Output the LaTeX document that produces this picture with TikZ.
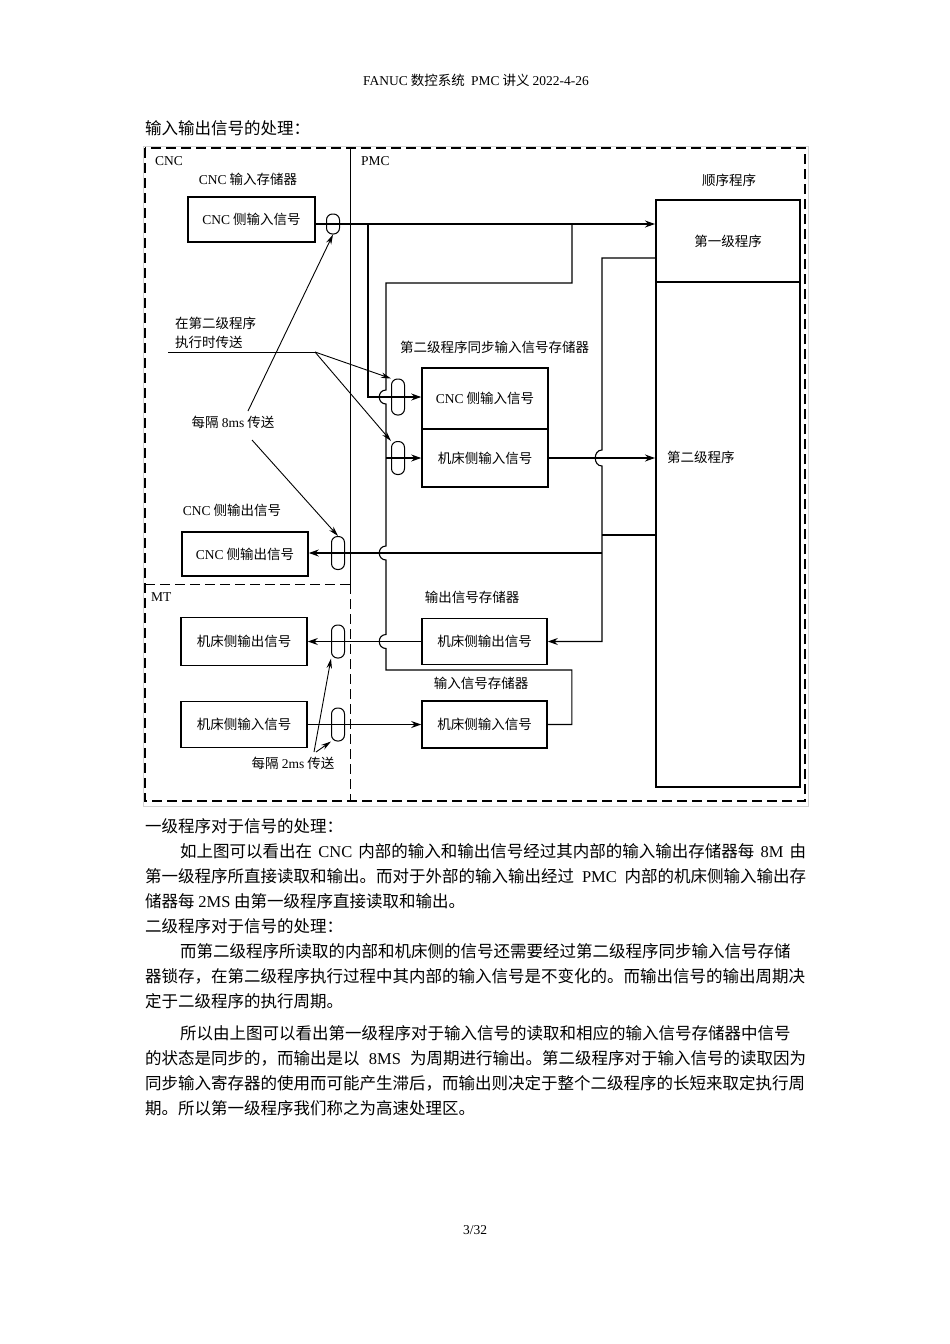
\documentclass[tikz,border=0pt]{standalone}
\usepackage{fontspec}
\setmainfont{Noto Sans CJK SC}
\newfontfamily\latn{Liberation Serif}
\usetikzlibrary{arrows.meta}
\XeTeXlinebreaklocale "zh"
\XeTeXlinebreakskip=0pt plus 1pt
\newcommand\dfont{\fontsize{13.5}{16}\selectfont}
\newcommand\bfont{\fontsize{16.5}{20}\selectfont}
\tikzset{
 box/.style={draw, line width=1.6pt, inner sep=0pt, font=\dfont},
 caps/.style={draw, line width=1pt, rounded corners=6pt, inner sep=0pt, minimum width=13pt},
 ln/.style={line width=1.1pt},
 arr/.style={ln, -{Stealth[length=10pt,width=7pt]}},
 arrt/.style={line width=0.9pt, -{Stealth[length=10pt,width=5.5pt]}},
 lbl/.style={inner sep=0pt, font=\dfont},
 body/.style={inner sep=0pt, anchor=west, font=\bfont},
 dsh/.style={dash pattern=on 10pt off 5pt},
}
\begin{document}
\begin{tikzpicture}[x=1pt,y=-1pt]
\fill[white] (0,0) rectangle (950,1344);
\useasboundingbox (0,0) rectangle (950,1344);

% header and title
\node[lbl] (hdr) at (476,80) {{\latn FANUC} 数控系统 \ {\latn PMC} 讲义 {\latn 2022-4-26}};
\node[body] (title) at (145,128) {输入输出信号的处理：};

% frame
\draw[gray!35, line width=0.8pt] (143,146) rectangle (808,806);
\draw[dsh, line width=1.5pt] (145,148) rectangle (805,801);
\draw[line width=0.8pt] (350,148) -- (350,584);
\draw[dsh, line width=0.9pt] (350,584) -- (350,801);
\draw[dsh, line width=0.9pt] (145,584) -- (350,584);

% labels
\node[lbl, anchor=west] (lcnc) at (155,161) {\latn CNC};
\node[lbl, anchor=west] (lpmc) at (361,161) {\latn PMC};
\node[lbl, anchor=west] (lmt) at (151,597) {\latn MT};
\node[lbl] (lcncmem) at (248,179) {{\latn CNC} 输入存储器};
\node[lbl] (lseq) at (729,180) {顺序程序};
\node[lbl, anchor=west] (l2a) at (175,323) {在第二级程序};
\node[lbl, anchor=west] (l2b) at (175,342) {执行时传送};
\node[lbl, anchor=west] (lsync) at (400,347) {第二级程序同步输入信号存储器};
\node[lbl] (l8ms) at (233,422) {每隔 {\latn 8ms} 传送};
\node[lbl] (lcncout) at (232,510) {{\latn CNC} 侧输出信号};
\node[lbl] (loutmem) at (472,597) {输出信号存储器};
\node[lbl] (linmem) at (481,683) {输入信号存储器};
\node[lbl] (l2ms) at (293,763) {每隔 {\latn 2ms} 传送};

% boxes
\node[box, minimum width=127pt, minimum height=45pt] (cncin) at (251.5,219.5) {{\latn CNC} 侧输入信号};
\node[box, minimum width=126pt, minimum height=44pt] (cncout) at (245,554) {{\latn CNC} 侧输出信号};
\node[box, minimum width=126pt, minimum height=48pt] (mtout) at (244,641.5) {机床侧输出信号};
\node[box, minimum width=126pt, minimum height=46pt] (mtin) at (244,724.5) {机床侧输入信号};
\node[box, minimum width=126pt, minimum height=61pt] (syncC) at (485,398.5) {{\latn CNC} 侧输入信号};
\node[box, minimum width=126pt, minimum height=58pt] (syncM) at (485,458) {机床侧输入信号};
\node[box, minimum width=125pt, minimum height=46pt] (pmcout) at (484.5,641.5) {机床侧输出信号};
\node[box, minimum width=125pt, minimum height=47pt] (pmcin) at (484.5,724.5) {机床侧输入信号};
\node[box, line width=2pt, minimum width=144pt, minimum height=82pt] (prog1) at (728,241) {第一级程序};
\node[box, line width=2pt, minimum width=144pt, minimum height=505pt] (prog2) at (728,534.5) {};
\node[lbl, anchor=west] (lprog2) at (667,457) {第二级程序};

% capsules
\node[caps, minimum height=20pt] (c1) at (333,224) {};
\node[caps, minimum height=36pt] (c2) at (398,397) {};
\node[caps, minimum height=33pt] (c3) at (398,458) {};
\node[caps, minimum height=33pt] (c4) at (338,553) {};
\node[caps, minimum height=33pt] (c5) at (338,641.5) {};
\node[caps, minimum height=33pt] (c6) at (338,724.5) {};

% connectors
\draw[arr] (cncin.east |- c1) -- (prog1.west |- c1);
\coordinate (j1) at (368,224);
\draw[arr] (j1) -- (j1 |- c2) -- (syncC.west |- c2);
\draw[ln] (pmcin.east) -- ++(24,0) |- (386,670) -- (386,648.5)
  .. controls (377,648.5) and (377,634.5) .. (386,634.5) -- (386,560)
  .. controls (377,560) and (377,546) .. (386,546) -- (386,404)
  .. controls (377,404) and (377,390) .. (386,390) -- (386,283) -- (572,283) -- (572,224);
\coordinate (j2) at (386,458);
\draw[arr] (j2) -- (syncM.west |- c3);
\draw[arr] (mtin.east) -- (pmcin.west);
\draw[arr] (pmcout.west) -- (mtout.east);
\draw[arr] (prog1.west |- 0,258) -- (602,258) -- (602,450)
  .. controls (593,450) and (593,466) .. (602,466) -- (602,641.5) -- (pmcout.east);
\draw[ln] (prog2.west |- 0,535) -- (602,535);
\coordinate (j3) at (602,553);
\draw[arr] (j3) -- (cncout.east |- c4);
\draw[arr] (syncM.east) -- (prog2.west |- syncM.east);

% transfer arrows
\coordinate (j4) at (315,352);
\draw[ln, line width=0.9pt] (168,352) -- (j4);
\draw[arrt] (j4) -- (c2.north west);
\draw[arrt] (j4) -- (c3.north west);
\draw[arrt] (248,411) -- (c1.south);
\draw[arrt] (252,440) -- (c4.north);
\draw[arrt] (314,752) -- (c5.south west);
\draw[arrt] (316,752) -- (c6.south west);

% body text
\node[body] (t1) at (145,826) {一级程序对于信号的处理：};
\node[body] (t2) at (180,851) {\hbox to 626pt{如上图可以看出在 {\latn CNC} 内部的输入和输出信号经过其内部的输入输出存储器每 {\latn 8M} 由}};
\node[body] (t3) at (145,876) {\hbox to 661pt{第一级程序所直接读取和输出。而对于外部的输入输出经过 {\latn PMC} 内部的机床侧输入输出存}};
\node[body] (t4) at (145,901) {储器每 {\latn 2MS} 由第一级程序直接读取和输出。};
\node[body] (t5) at (145,926) {二级程序对于信号的处理：};
\node[body] (t6) at (180,951) {\hbox to 626pt{而第二级程序所读取的内部和机床侧的信号还需要经过第二级程序同步输入信号存储}};
\node[body] (t7) at (145,976) {\hbox to 661pt{器锁存，在第二级程序执行过程中其内部的输入信号是不变化的。而输出信号的输出周期决}};
\node[body] (t8) at (145,1001) {定于二级程序的执行周期。};
\node[body] (t9) at (180,1033) {\hbox to 626pt{所以由上图可以看出第一级程序对于输入信号的读取和相应的输入信号存储器中信号}};
\node[body] (t10) at (145,1058) {\hbox to 661pt{的状态是同步的，而输出是以 {\latn 8MS} 为周期进行输出。第二级程序对于输入信号的读取因为}};
\node[body] (t11) at (145,1083) {\hbox to 661pt{同步输入寄存器的使用而可能产生滞后，而输出则决定于整个二级程序的长短来取定执行周}};
\node[body] (t12) at (145,1108) {期。所以第一级程序我们称之为高速处理区。};

\node[lbl] (pg) at (475,1230) {\latn 3/32};
\end{tikzpicture}
\end{document}
